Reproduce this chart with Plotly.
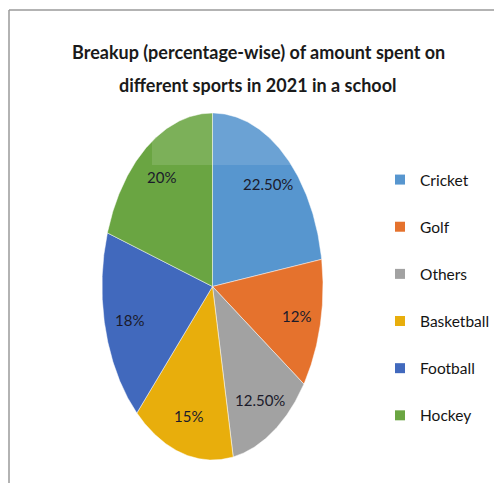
import numpy as np
import plotly.graph_objects as go

categories = ["Cricket", "Golf", "Others", "Basketball", "Football", "Hockey"]
values = [22.5, 12, 12.5, 15, 18, 20]
value_labels = ["22.50%", "12%", "12.50%", "15%", "18%", "20%"]
colors = ["#5796CF", "#E5722D", "#A2A2A2", "#E8AE0C", "#4169BD", "#6AA542"]
title_lines = ["Breakup (percentage-wise) of amount spent on",
               "different sports in 2021 in a school"]

# page is offset by the body margin (8px); axes use page pixel coordinates
OFF = 8
PW, PH = 502, 483
W, H = PW - OFF, PH - OFF
CX, CY = 212.5, 286.5
RX, RY = 110.5, 173.5
LABEL_R = 0.78
FONT = "Lato, Carlito, Calibri, sans-serif"

fig = go.Figure()

total = float(sum(values))
cum = np.concatenate([[0.0], np.cumsum(values)]) / total
for i, cat in enumerate(categories):
    t0, t1 = cum[i] * 2 * np.pi, cum[i + 1] * 2 * np.pi
    t = np.linspace(t0, t1, 120)
    xs = np.concatenate([[CX], CX + RX * np.sin(t), [CX]])
    ys = np.concatenate([[CY], CY - RY * np.cos(t), [CY]])
    fig.add_trace(go.Scatter(
        x=xs, y=ys, mode="lines", fill="toself",
        fillcolor=colors[i], line=dict(color="rgba(255,255,255,0.6)", width=0.8),
        hoverinfo="skip", showlegend=False,
    ))
    tm = (t0 + t1) / 2
    fig.add_annotation(
        x=CX + LABEL_R * RX * np.sin(tm), y=CY - LABEL_R * RY * np.cos(tm),
        text=value_labels[i], showarrow=False,
        font=dict(family=FONT, size=15, color="#1b1b2b"),
    )

for i, cat in enumerate(categories):
    fig.add_trace(go.Scatter(
        x=[None], y=[None], mode="markers", name=cat, legendgroup=cat,
        marker=dict(symbol="square", size=10, color=colors[i]),
    ))

# title, two lines
for line, ypos in zip(title_lines, [52, 85]):
    fig.add_annotation(
        x=258, y=ypos, text="<b>" + line + "</b>", showarrow=False,
        xanchor="center", yanchor="middle",
        font=dict(family=FONT, size=18, color="#1a1a1a"),
    )

# faint light band (photo artifact)
fig.add_shape(type="rect", x0=152, x1=340, y0=112, y1=165,
              fillcolor="rgba(255,255,255,0.12)", line=dict(width=0), layer="above")
# chart border (top + left)
fig.add_shape(type="line", x0=9, x1=PW, y0=10, y1=10, line=dict(color="#9a9a9a", width=1.5))
fig.add_shape(type="line", x0=9, x1=9, y0=10, y1=PH, line=dict(color="#9a9a9a", width=1.5))

fig.update_layout(
    width=W, height=H,
    margin=dict(l=0, r=0, t=0, b=0, autoexpand=False),
    paper_bgcolor="white", plot_bgcolor="white",
    xaxis=dict(range=[OFF, PW], visible=False, fixedrange=True),
    yaxis=dict(range=[PH, OFF], visible=False, fixedrange=True),
    legend=dict(
        x=(380 - OFF) / W, y=1 - (163 - OFF) / H, xanchor="left", yanchor="top",
        font=dict(family=FONT, size=15.5, color="#141414"),
        tracegroupgap=24, traceorder="grouped", bgcolor="rgba(0,0,0,0)",
        itemwidth=30,
    ),
    showlegend=True,
)

fig.write_html("out.html")
